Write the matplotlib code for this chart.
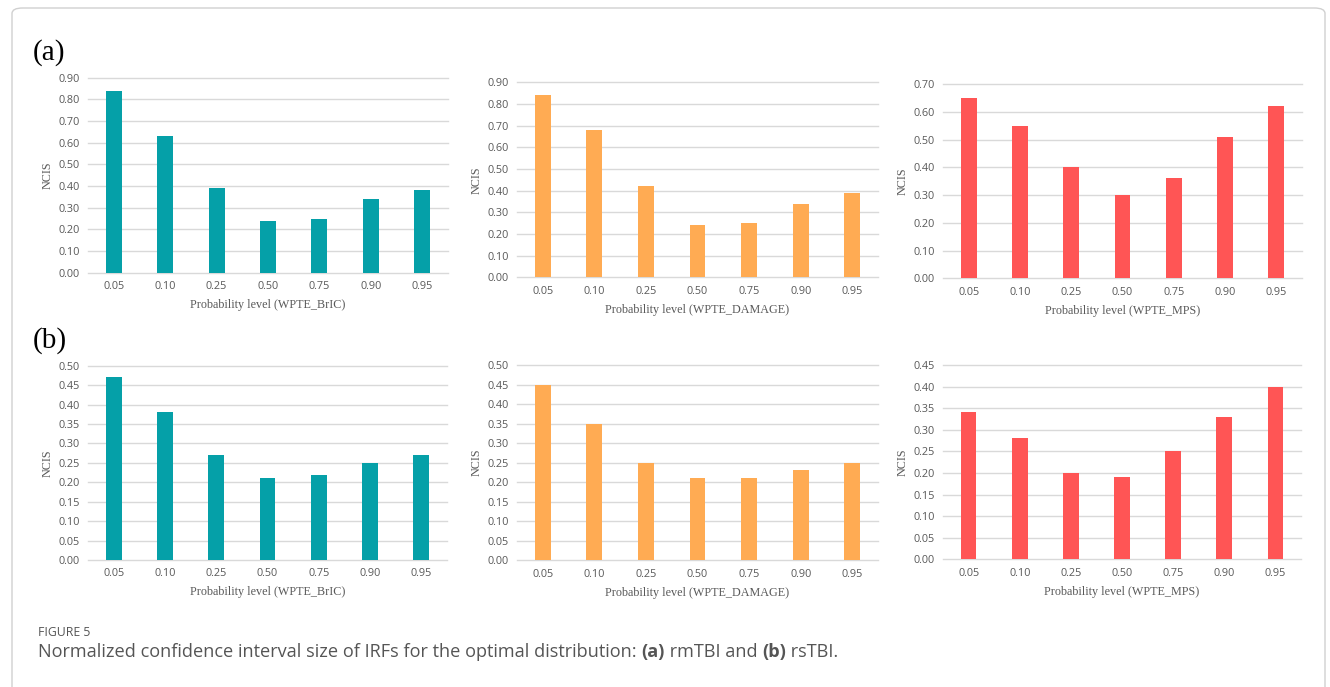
from __future__ import annotations

import matplotlib

matplotlib.use("Agg")
import matplotlib.pyplot as plt
from matplotlib.patches import FancyBboxPatch
import numpy as np

LEVELS = ["0.05", "0.10", "0.25", "0.50", "0.75", "0.90", "0.95"]

# (a) rmTBI
RM_BRIC = [0.84, 0.63, 0.39, 0.24, 0.25, 0.34, 0.38]
RM_DAMAGE = [0.84, 0.68, 0.42, 0.24, 0.25, 0.34, 0.39]
RM_MPS = [0.65, 0.55, 0.40, 0.30, 0.36, 0.51, 0.62]
# (b) rsTBI
RS_BRIC = [0.47, 0.38, 0.27, 0.21, 0.22, 0.25, 0.27]
RS_DAMAGE = [0.45, 0.35, 0.25, 0.21, 0.21, 0.23, 0.25]
RS_MPS = [0.34, 0.28, 0.20, 0.19, 0.25, 0.33, 0.40]

TEAL = "#05A0A8"
ORANGE = "#FFAB53"
RED = "#FF5555"
GRID = "#D9D9D9"
TXT = "#595959"

W, H = 1330, 687
fig = plt.figure(figsize=(W / 100, H / 100), dpi=100)


def px_rect(x0, x1, ytop, ybot):
    return [x0 / W, 1 - ybot / H, (x1 - x0) / W, (ybot - ytop) / H]


panels = [
    (RM_BRIC, TEAL, "WPTE_BrIC", 0.90, 0.10, px_rect(88, 448, 77.7, 272.7)),
    (RM_DAMAGE, ORANGE, "WPTE_DAMAGE", 0.90, 0.10, px_rect(517, 878, 82.3, 277.3)),
    (RM_MPS, RED, "WPTE_MPS", 0.70, 0.10, px_rect(943, 1302, 84, 278.3)),
    (RS_BRIC, TEAL, "WPTE_BrIC", 0.50, 0.05, px_rect(88, 447, 365.7, 560)),
    (RS_DAMAGE, ORANGE, "WPTE_DAMAGE", 0.50, 0.05, px_rect(517, 878, 365, 560.3)),
    (RS_MPS, RED, "WPTE_MPS", 0.45, 0.05, px_rect(943, 1301, 365, 559.3)),
]

for vals, color, name, ymax, step, rect in panels:
    ax = fig.add_axes(rect)
    x = np.arange(len(LEVELS))
    ax.bar(x, vals, width=0.31, color=color, zorder=3)
    ticks = np.round(np.arange(0, ymax + step / 2, step), 2)
    for t in ticks:
        ax.axhline(t, color=GRID, lw=1.0, zorder=1, clip_on=False)
    ax.set_ylim(0, ymax)
    ax.set_xlim(-0.5, len(LEVELS) - 0.5)
    ax.set_yticks(ticks)
    ax.set_yticklabels([f"{t:.2f}" for t in ticks], family="Open Sans", fontsize=7.8, color=TXT)
    ax.set_xticks(x)
    ax.set_xticklabels(LEVELS, family="Open Sans", fontsize=7.8, color=TXT)
    ax.tick_params(length=0, pad=6)
    for s in ax.spines.values():
        s.set_visible(False)
    ax.set_xlabel(f"Probability level ({name})", family="Liberation Serif", fontsize=8.7,
                  color=TXT, labelpad=5)
    ax.set_ylabel("NCIS", family="Liberation Serif", fontsize=8.7, color=TXT, labelpad=3)

fig.text(33 / W, 1 - 53 / H, "(a)", family="Liberation Serif", fontsize=21, va="center")
fig.text(33 / W, 1 - 341 / H, "(b)", family="Liberation Serif", fontsize=21, va="center")

# frame around the figure
fig.patches.append(FancyBboxPatch((12 / W, -0.05), (1325 - 12) / W, 1 - 8 / H + 0.05,
                                  boxstyle="round,pad=0,rounding_size=0.008",
                                  transform=fig.transFigure, fill=False,
                                  ec="#D0D0D0", lw=1.0))

fig.text(38 / W, 1 - 632 / H, "FIGURE 5", family="Open Sans", fontsize=8.8,
         color="#555555", va="center")

r = fig.canvas.get_renderer()
cx = 38 / W
parts = [
    ("Normalized confidence interval size of IRFs for the optimal distribution: ", "normal"),
    ("(a)", "bold"),
    (" rmTBI and ", "normal"),
    ("(b)", "bold"),
    (" rsTBI.", "normal"),
]
for txt, weight in parts:
    t = fig.text(cx, 1 - 652 / H, txt, family="Open Sans", fontsize=13.1, fontweight=weight,
                 color="#555555", va="center")
    bb = t.get_window_extent(renderer=r)
    cx += bb.width / W

fig.savefig("out.png", dpi=100)
